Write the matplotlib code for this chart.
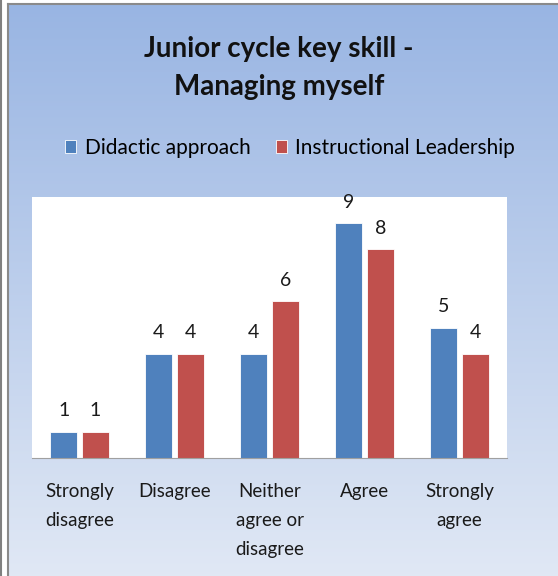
import matplotlib.pyplot as plt
import numpy as np
from matplotlib.lines import Line2D

categories = ["Strongly\ndisagree", "Disagree", "Neither\nagree or\ndisagree", "Agree", "Strongly\nagree"]
didactic = [1, 4, 4, 9, 5]
instructional = [1, 4, 6, 8, 4]
series_names = ["Didactic approach", "Instructional Leadership"]

W, H = 558, 576
plt.rcParams['font.family'] = ['Lato', 'DejaVu Sans']

fig = plt.figure(figsize=(W / 100, H / 100), dpi=100)
fig.patch.set_facecolor('white')

# gradient background
bg = fig.add_axes([9 / W, 0, 1 - 9 / W, 1 - 5 / H])
grad = np.linspace(0, 1, 256).reshape(-1, 1)
top = np.array([0.60, 0.71, 0.89])
bot = np.array([0.88, 0.91, 0.96])
img = top + (bot - top) * grad[..., None]
bg.imshow(img, aspect='auto', extent=[0, 1, 0, 1])
bg.axis('off')

# frame lines
fig.add_artist(Line2D([1 / W, 1 / W], [0, 1], color='#808080', lw=1.5))
fig.add_artist(Line2D([8 / W, 8 / W], [0, 1 - 4 / H], color='#8a8a8a', lw=1.5))
fig.add_artist(Line2D([8 / W, 1], [1 - 4 / H, 1 - 4 / H], color='#8a8a8a', lw=1.5))

ax = fig.add_axes([32 / W, (H - 458) / H, 475 / W, 261 / H])
ax.set_facecolor('white')
x = np.arange(len(categories))
bw = 0.28
off = 0.166
b1 = ax.bar(x - off, didactic, bw, color='#4F81BD', edgecolor='white', linewidth=0.6, label=series_names[0])
b2 = ax.bar(x + off, instructional, bw, color='#C0504D', edgecolor='white', linewidth=0.6, label=series_names[1])
for bars, vals in ((b1, didactic), (b2, instructional)):
    for r, v in zip(bars, vals):
        ax.annotate(str(v), (r.get_x() + r.get_width() / 2, v), xytext=(0, 9),
                    textcoords='offset points', ha='center', va='bottom',
                    fontsize=14, color='#1a1a1a', annotation_clip=False)

ax.set_xlim(-0.5, 4.5)
ax.set_ylim(0, 10)
ax.set_yticks([])
ax.set_xticks(x)
ax.set_xticklabels(categories, fontsize=13.5, color='#1a1a1a', linespacing=1.85)
ax.tick_params(axis='x', length=0, pad=18)
for s in ['top', 'right', 'left']:
    ax.spines[s].set_visible(False)
ax.spines['bottom'].set_color('#a0a0a0')

fig.text(0.5, 1 - 68 / H, "Junior cycle key skill -\nManaging myself", ha='center', va='center',
         fontsize=20, fontweight='bold', color='#111111', linespacing=1.6)

fig.legend(handles=[b1, b2], labels=series_names, loc='center', bbox_to_anchor=(290 / W, 1 - 148 / H),
           ncol=2, frameon=False, fontsize=15, handlelength=0.55, handleheight=0.55,
           handletextpad=0.4, columnspacing=1.2)

fig.savefig('out.png', dpi=100)
